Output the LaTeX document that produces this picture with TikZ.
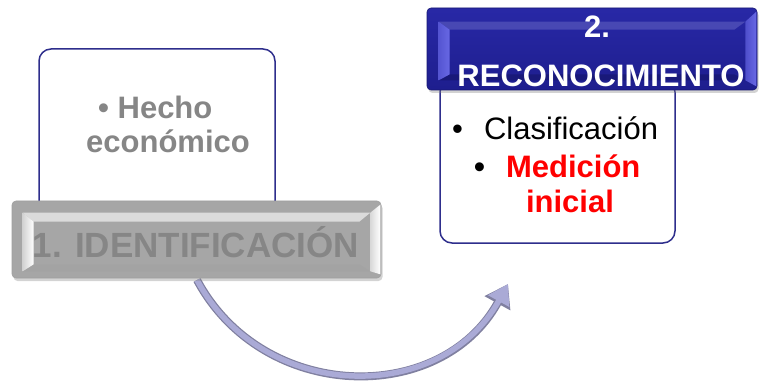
\documentclass[tikz,border=0pt]{standalone}
\usepackage{fontspec}
\setmainfont{Liberation Sans}
\usetikzlibrary{calc,shadows,arrows.meta}

\definecolor{cardline}{RGB}{46,46,140}
\definecolor{idface}{RGB}{166,166,166}
\definecolor{idtext}{RGB}{134,134,134}
\definecolor{retop}{RGB}{40,40,166}
\definecolor{rebot}{RGB}{30,30,142}
\definecolor{rebevel}{RGB}{104,104,228}
\definecolor{arrowfill}{RGB}{170,170,214}
\definecolor{arrowedge}{RGB}{128,128,160}
\definecolor{medred}{RGB}{255,0,0}

\tikzset{
  card/.style={draw=cardline, line width=1.5pt, fill=white, rounded corners=12pt,
    minimum width=236pt, minimum height=164pt, inner sep=0pt},
  bar/.style={rounded corners=4pt, inner sep=0pt,
    drop shadow={opacity=0.35, shadow xshift=1.5pt, shadow yshift=-3pt}},
  bigtxt/.style={font=\fontsize{31}{31}\selectfont, inner sep=0pt},
}

\begin{document}
\begin{tikzpicture}[x=1pt, y=-1pt]
\useasboundingbox (0,0) rectangle (760,382);

%% the curved arrow, under the bars
    \coordinate (arrS) at (197,280);
    \coordinate (arrE) at (508,284);
    \draw[line width=8pt, arrowedge, -{Triangle[length=22pt,width=28pt]}]
      (arrS) .. controls (263,403) and (441,406) .. (arrE);
    \draw[line width=5.5pt, arrowfill, -{Triangle[length=19.5pt,width=23pt]}]
      (arrS) .. controls (263,403) and (441,406) .. (arrE);

%% 1. identificacion
    \node[card] (card1) at (157,131) {};
    \node[bigtxt, text=idtext, anchor=base west, font=\fontsize{31}{31}\selectfont\bfseries]
      (hecho) at (98,119) {\textbullet\ Hecho};
    \node[bigtxt, text=idtext, anchor=base, font=\fontsize{31}{31}\selectfont\bfseries]
      (econ) at (168,153) {económico};

    \node[bar, fill=idface, draw=gray!75, line width=0.6pt, minimum width=369pt, minimum height=77pt]
      (ident) at (196.5,239.5) {};
    % bevel
    \fill[gray!28] ($(ident.north west)+(11,12)$) -- ($(ident.north east)+(-11,12)$)
      -- ($(ident.north east)+(-22,21)$) -- ($(ident.north west)+(22,21)$) -- cycle;
    \fill[gray!72] ($(ident.south west)+(11,-7)$) -- ($(ident.south east)+(-11,-7)$)
      -- ($(ident.south east)+(-22,-14)$) -- ($(ident.south west)+(22,-14)$) -- cycle;
    \shade[left color=gray!35, right color=white] ($(ident.north west)+(11,12)$)
      -- ($(ident.north west)+(22,21)$) -- ($(ident.south west)+(22,-14)$)
      -- ($(ident.south west)+(11,-7)$) -- cycle;
    \shade[left color=gray!30, right color=white] ($(ident.north east)+(-11,12)$)
      -- ($(ident.north east)+(-1,4)$) -- ($(ident.south east)+(-1,-4)$)
      -- ($(ident.south east)+(-11,-7)$) -- cycle;
    \node[text=idtext, anchor=base, inner sep=0pt, font=\fontsize{35}{35}\selectfont\bfseries]
      (identtxt) at (196,257) {1. IDENTIFICACIÓN};

%% 2. reconocimiento
    \node[card, minimum width=235pt, minimum height=163pt] (card2) at (557.5,161.5) {};
    \node[bigtxt, anchor=base west] (clasif) at (452,140) {\textbullet\hspace{21pt}Clasificación};
    \node[bigtxt, anchor=base west, font=\fontsize{31}{31}\selectfont\bfseries]
      (medic) at (474,178) {\textbullet\hspace{21pt}\textcolor{medred}{Medición}};
    \node[bigtxt, anchor=base, text=medred, font=\fontsize{31}{31}\selectfont\bfseries]
      (inic) at (570,212) {inicial};

    \node[bar, top color=retop, bottom color=rebot, draw=rebot!80!black, line width=0.6pt,
      minimum width=330pt, minimum height=82pt] (recon) at (592,49) {};
    % bevel
    \fill[retop!85!white] ($(recon.north west)+(12,14)$) -- ($(recon.north east)+(-12,14)$)
      -- ($(recon.north east)+(-23,22)$) -- ($(recon.north west)+(23,22)$) -- cycle;
    \fill[rebot!85!black] ($(recon.south west)+(12,-10)$) -- ($(recon.south east)+(-12,-10)$)
      -- ($(recon.south east)+(-23,-16)$) -- ($(recon.south west)+(23,-16)$) -- cycle;
    \shade[left color=rebevel!70!retop, right color=rebevel] ($(recon.north west)+(12,14)$)
      -- ($(recon.north west)+(23,22)$) -- ($(recon.south west)+(23,-16)$)
      -- ($(recon.south west)+(12,-10)$) -- cycle;
    \shade[left color=rebevel!60!retop, right color=rebevel] ($(recon.north east)+(-12,14)$)
      -- ($(recon.north east)+(-1,4)$) -- ($(recon.south east)+(-1,-4)$)
      -- ($(recon.south east)+(-12,-10)$) -- cycle;
    \node[bigtxt, text=white, anchor=base, font=\fontsize{31}{31}\selectfont\bfseries]
      (num2) at (597,38) {2.};
    \node[bigtxt, text=white, anchor=base, font=\fontsize{31}{31}\selectfont\bfseries]
      (recontxt) at (601,87) {RECONOCIMIENTO};

\end{tikzpicture}
\end{document}
